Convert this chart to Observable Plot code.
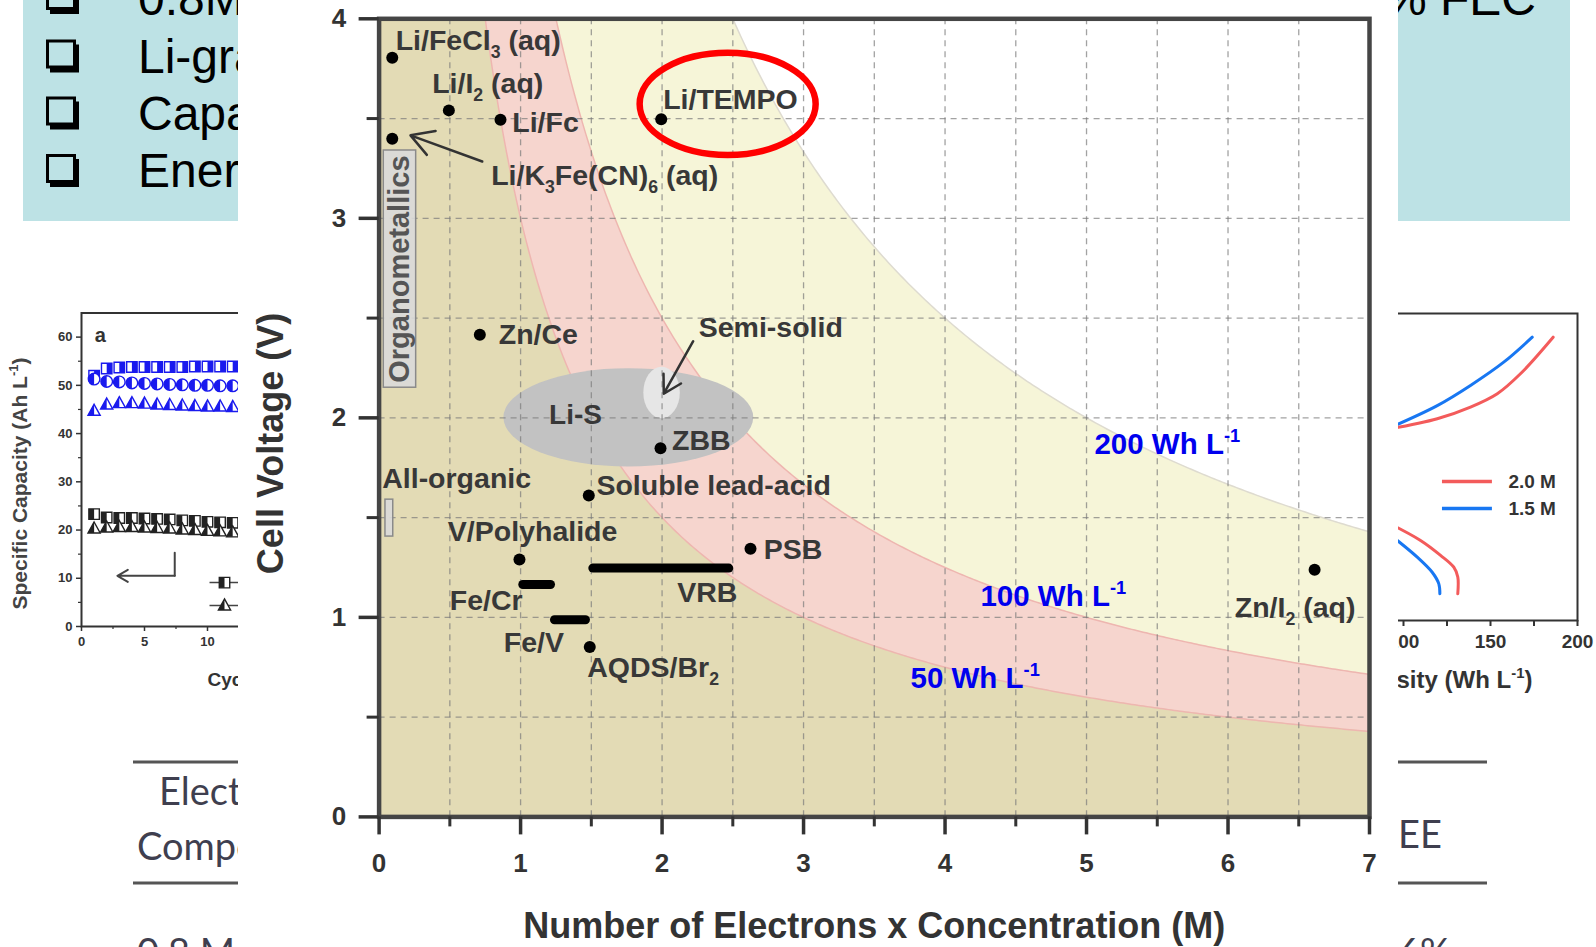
<!DOCTYPE html>
<html><head><meta charset="utf-8">
<script src="https://cdn.jsdelivr.net/npm/d3@7"></script>
<script src="https://cdn.jsdelivr.net/npm/@observablehq/plot@0.6"></script>
<style>
html,body{margin:0;padding:0;background:#fff;}
#page{position:relative;width:1596px;height:947px;overflow:hidden;background:#fff;font-family:'Liberation Sans',Arial,sans-serif;}
.layer{position:absolute;}
</style></head><body>
<div id="page">
 <svg id="bg" class="layer" style="left:0;top:0" width="1596" height="947"></svg>
 <div id="left" class="layer" style="left:0;top:290px"></div>
 <div id="right" class="layer" style="left:1300px;top:290px"></div>
 <div id="panel" class="layer" style="left:238px;top:0;width:1160px;height:947px;background:#fff"></div>
 <div id="main" class="layer" style="left:238px;top:0"></div>
</div>
<script>
// ================= MAIN CHART DATA =================
const xTicks = [0, 1, 2, 3, 4, 5, 6, 7];
const xMinorTicks = [0.5, 1.5, 2.5, 3.5, 4.5, 5.5, 6.5];
const yTicks = [0, 1, 2, 3, 4];
const yMinorTicks = [0.5, 1.5, 2.5, 3.5];
const gridX = [0.5, 1, 1.5, 2, 2.5, 3, 3.5, 4, 4.5, 5, 5.5, 6, 6.5];
const gridY = [0.5, 1, 1.5, 2, 2.5, 3, 3.5];

// iso-energy-density curves: cell voltage x (electrons x concentration) = k
const isoEnergy = [
  {label: "200 Wh L[-1]", k: 10.0},
  {label: "100 Wh L[-1]", k: 5.0},
  {label: "50 Wh L[-1]", k: 3.0}
];
const energyLabels = [
  {text: "200 Wh L[-1]", x: 5.056, v: 1.817},
  {text: "100 Wh L[-1]", x: 4.25, v: 1.055},
  {text: "50 Wh L[-1]", x: 3.756, v: 0.644}
];

// redox couples (single points)
const couples = [
  {name: "Li/FeCl3 (aq)", x: 0.093, v: 3.805},
  {name: "Li/I2 (aq)", x: 0.493, v: 3.541},
  {name: "Li/Fc", x: 0.858, v: 3.494},
  {name: "Li/K3Fe(CN)6 (aq)", x: 0.093, v: 3.399},
  {name: "Li/TEMPO", x: 1.994, v: 3.496},
  {name: "Zn/Ce", x: 0.712, v: 2.417},
  {name: "ZBB", x: 1.989, v: 1.848},
  {name: "Soluble lead-acid", x: 1.482, v: 1.611},
  {name: "V/Polyhalide", x: 0.992, v: 1.290},
  {name: "AQDS/Br2", x: 1.489, v: 0.851},
  {name: "PSB", x: 2.625, v: 1.344},
  {name: "Zn/I2 (aq)", x: 6.612, v: 1.239}
];
// concentration ranges (bars)
const ranges = [
  {name: "Fe/Cr", x1: 1.019, x2: 1.215, v: 1.165},
  {name: "Fe/V", x1: 1.243, x2: 1.462, v: 0.988},
  {name: "VRB", x1: 1.514, x2: 2.475, v: 1.247}
];
// boxed regions
const boxes = [
  {name: "Organometallics", x1: 0.033, x2: 0.262, v1: 2.151, v2: 3.34},
  {name: "All-organic", x1: 0.045, x2: 0.100, v1: 1.405, v2: 1.59}
];
// elliptical regions
const lisCloud = [{name: "Li-S", cx: 1.765, cv: 2.0, rx: 0.883, rv: 0.2466}];
const semiSolidCloud = [{name: "Semi-solid", cx: 2.0, cv: 2.125, rx: 0.129, rv: 0.129}];
const highlight = [{name: "Li/TEMPO", cx: 2.467, cv: 3.571, rx: 0.622, rv: 0.256}];
// pointer arrows
const pointers = [
  {name: "Li/K3Fe(CN)6", x1: 0.729, v1: 3.285, x2: 0.222, v2: 3.416},
  {name: "Semi-solid", x1: 2.22, v1: 2.384, x2: 2.012, v2: 2.121}
];
// label anchors (start, baseline) in data units; {} = subscript, [] = superscript
const labels = [
  {text: "Li/FeCl{3} (aq)", x: 0.117, v: 3.842},
  {text: "Li/I{2} (aq)", x: 0.375, v: 3.628},
  {text: "Li/Fc", x: 0.941, v: 3.432},
  {text: "Li/TEMPO", x: 2.008, v: 3.549},
  {text: "Li/K{3}Fe(CN){6} (aq)", x: 0.792, v: 3.165},
  {text: "Zn/Ce", x: 0.846, v: 2.371},
  {text: "Semi-solid", x: 2.259, v: 2.405},
  {text: "ZBB", x: 2.071, v: 1.837},
  {text: "Soluble lead-acid", x: 1.536, v: 1.611},
  {text: "All-organic", x: 0.022, v: 1.650},
  {text: "V/Polyhalide", x: 0.486, v: 1.382},
  {text: "Fe/Cr", x: 0.5, v: 1.035},
  {text: "Fe/V", x: 0.881, v: 0.826},
  {text: "AQDS/Br{2}", x: 1.471, v: 0.700},
  {text: "VRB", x: 2.107, v: 1.076},
  {text: "PSB", x: 2.719, v: 1.294},
  {text: "Zn/I{2} (aq)", x: 6.048, v: 1.001}
];
const cloudLabels = [{text: "Li-S", x: 1.388, v: 1.967}];

// ================= LEFT INSET DATA =================
const cycles = [1, 2, 3, 4, 5, 6, 7, 8, 9, 10, 11, 12, 13];
const capBlueSquare = [52.0, 53.5, 53.7, 53.8, 53.8, 53.8, 53.8, 53.8, 53.9, 53.9, 53.9, 53.9, 53.9];
const capBlueCircle = [51.3, 50.8, 50.7, 50.5, 50.4, 50.3, 50.2, 50.1, 50.0, 50.0, 49.9, 49.9, 49.9];
const capBlueTriangle = [44.7, 46.0, 46.3, 46.3, 46.2, 46.0, 45.9, 45.8, 45.7, 45.6, 45.6, 45.5, 45.5];
const capBlackSquare = [23.3, 22.6, 22.5, 22.5, 22.4, 22.3, 22.2, 22.0, 21.9, 21.7, 21.6, 21.5, 21.4];
const capBlackTriangle = [20.3, 20.5, 20.6, 20.6, 20.5, 20.4, 20.3, 20.1, 20.0, 19.8, 19.7, 19.5, 19.4];
const leftYTicks = [0, 10, 20, 30, 40, 50, 60];
const leftYMinor = [5, 15, 25, 35, 45, 55];
const leftXTicks = [0, 5, 10, 15, 20];
const leftXMinor = [2.5, 7.5, 12.5, 17.5];
const axisArrow = [{c: 7.4, v: 15.3}, {c: 7.4, v: 10.5}];
const axisArrowHead = [{c1: 7.4, v1: 10.5, c2: 2.85, v2: 10.5}];
const leftLegend = [{c1: 10.2, c2: 13.5, cm: 11.35, v: 9.1, shape: "square"}, {c1: 10.2, c2: 13.5, cm: 11.35, v: 4.35, shape: "triangle"}];

// ================= RIGHT INSET DATA =================
const charge15 = [{e: 92.5, v: 1.48}, {e: 119.4, v: 1.58}, {e: 138.5, v: 1.672}, {e: 157.6, v: 1.778}, {e: 174.0, v: 1.892}];
const charge20 = [{e: 92.5, v: 1.474}, {e: 119.4, v: 1.520}, {e: 138.5, v: 1.573}, {e: 153.9, v: 1.634}, {e: 167.2, v: 1.725}, {e: 186.0, v: 1.892}];
const discharge20 = [{e: 92.5, v: 1.04}, {e: 109.8, v: 0.965}, {e: 121.3, v: 0.897}, {e: 128.9, v: 0.843}, {e: 131.2, v: 0.798}, {e: 131.2, v: 0.722}];
const discharge15 = [{e: 92.5, v: 0.99}, {e: 107.9, v: 0.889}, {e: 116.5, v: 0.820}, {e: 120.3, v: 0.767}, {e: 120.9, v: 0.722}];
const rightXTicks = [100, 150, 200];
const rightXMinor = [125, 175];
const rightLegend = [{label: "2.0 M", v: 1.234, e1: 122.4, e2: 151.1, et: 160.3}, {label: "1.5 M", v: 1.111, e1: 122.4, e2: 151.1, et: 160.3}];

// ================= SLIDE BACKGROUND TEXT (visible fragments) =================
const bulletLines = ["0.8M", "Li-grap", "Capac", "Energ"];
const tableHead = ["Electr", "Compo"];

// ---------------- helpers ----------------
const FONT = "'Liberation Sans', Arial, Helvetica, sans-serif";
const intFmt = d3.format("d");
function richify(svg) {
  d3.select(svg).selectAll("text").each(function () {
    const t = this.textContent;
    if (!/[{\[]/.test(t) || this.querySelector("tspan")) return;
    const fs = parseFloat(getComputedStyle(this).fontSize) || 20;
    const parts = t.split(/(\{[^}]*\}|\[[^\]]*\])/).filter(s => s.length);
    this.textContent = "";
    let shift = 0;
    for (const p of parts) {
      const ts = d3.select(this).append("tspan");
      let target = 0, txt = p, small = false;
      if (p[0] === "{") { target = 0.28 * fs; txt = p.slice(1, -1); small = true; }
      else if (p[0] === "[") { target = -0.42 * fs; txt = p.slice(1, -1); small = true; }
      ts.attr("dy", target - shift).text(txt);
      if (small) ts.attr("font-size", (0.62 * fs).toFixed(1));
      shift = target;
    }
  });
}
function ellipseMark(data, style) {
  return (index, scales) => {
    const g = d3.create("svg:g");
    for (const d of data) {
      const cx = scales.x(d.cx), cy = scales.y(d.cv);
      g.append("ellipse").attr("cx", cx).attr("cy", cy)
        .attr("rx", Math.abs(scales.x(d.cx + d.rx) - cx))
        .attr("ry", Math.abs(scales.y(d.cv + d.rv) - cy))
        .attr("fill", style.fill || "none")
        .attr("fill-opacity", style.fillOpacity ?? 1)
        .attr("stroke", style.stroke || "none")
        .attr("stroke-width", style.strokeWidth || 0);
    }
    return g.node();
  };
}
function sym(shape, half) {
  return {draw(ctx, size) {
    const r = Math.sqrt(size / Math.PI);
    if (shape === "square") {
      const s = r * 0.9;
      if (half === "right") { ctx.moveTo(0, -s); ctx.lineTo(s, -s); ctx.lineTo(s, s); ctx.lineTo(0, s); ctx.closePath(); }
      else if (half === "left") { ctx.moveTo(-s, -s); ctx.lineTo(0, -s); ctx.lineTo(0, s); ctx.lineTo(-s, s); ctx.closePath(); }
      else { ctx.moveTo(-s, -s); ctx.lineTo(s, -s); ctx.lineTo(s, s); ctx.lineTo(-s, s); ctx.closePath(); }
    } else if (shape === "circle") {
      if (half === "left") { ctx.moveTo(0, -r); ctx.arc(0, 0, r, -Math.PI / 2, Math.PI / 2, true); ctx.closePath(); }
      else { ctx.moveTo(r, 0); ctx.arc(0, 0, r, 0, 2 * Math.PI); ctx.closePath(); }
    } else {
      const h = r * 1.9, w = r * 2.1;
      if (half === "left") { ctx.moveTo(0, -0.6 * h); ctx.lineTo(0, 0.4 * h); ctx.lineTo(-w / 2, 0.4 * h); ctx.closePath(); }
      else { ctx.moveTo(0, -0.6 * h); ctx.lineTo(w / 2, 0.4 * h); ctx.lineTo(-w / 2, 0.4 * h); ctx.closePath(); }
    }
  }};
}

// ================= SLIDE BACKGROUND =================
const BLUE_BOX = "#bde2e5";
const TXT = "#3f3f4f";
(function drawBackground() {
  const bg = d3.select("#bg");
  bg.append("rect").attr("x", 23).attr("y", 0).attr("width", 215).attr("height", 221).attr("fill", BLUE_BOX);
  bg.append("rect").attr("x", 1398).attr("y", 0).attr("width", 172).attr("height", 221).attr("fill", BLUE_BOX);
  const baselines = [15, 72.7, 130, 186.7];
  const boxTops = [-19, 39.5, 96.5, 154];
  bulletLines.forEach((t, i) => {
    bg.append("rect").attr("x", 50).attr("y", boxTops[i] + 5).attr("width", 29).attr("height", 28).attr("fill", "#000");
    bg.append("rect").attr("x", 47.5).attr("y", boxTops[i] + 1.5).attr("width", 27).attr("height", 26)
      .attr("fill", BLUE_BOX).attr("stroke", "#000").attr("stroke-width", 3);
    bg.append("text").attr("x", 138).attr("y", baselines[i]).attr("font-family", FONT)
      .attr("font-size", 48).attr("fill", "#000").text(t);
  });
  bg.append("text").attr("x", 1536).attr("y", 15).attr("text-anchor", "end").attr("font-family", FONT)
    .attr("font-size", 48).attr("fill", "#000").text("% FEC");
  for (const [x1, x2] of [[133, 238], [1398, 1487]]) {
    for (const y of [762, 883]) bg.append("line").attr("x1", x1).attr("x2", x2).attr("y1", y).attr("y2", y)
      .attr("stroke", "#555").attr("stroke-width", 3);
  }
  const tf = "Lato, 'Open Sans', sans-serif";
  bg.append("text").attr("x", 159).attr("y", 805).attr("font-family", tf).attr("font-size", 38).attr("fill", TXT).text(tableHead[0]);
  bg.append("text").attr("x", 137).attr("y", 860).attr("font-family", tf).attr("font-size", 38).attr("fill", TXT).text(tableHead[1]);
  bg.append("text").attr("x", 137).attr("y", 966).attr("font-family", tf).attr("font-size", 38).attr("fill", TXT).text("0.8 M");
  bg.append("text").attr("x", 1398).attr("y", 848).attr("font-family", tf).attr("font-size", 38).attr("fill", TXT).text("EE");
  bg.append("text").attr("x", 1398).attr("y", 966).attr("font-family", tf).attr("font-size", 38).attr("fill", TXT).text("6%");
})();

// ================= LEFT INSET =================
(function drawLeft() {
  const series = (vals) => cycles.map((c, i) => ({c, v: vals[i]}));
  const BL = "#1a1aee", BK = "#222";
  const mk = (vals, shape, half, color) => [
    Plot.dot(series(vals), {x: "c", y: "v", r: 5.8, symbol: sym(shape), fill: "#fff", stroke: color, strokeWidth: 1.4}),
    Plot.dot(series(vals), {x: "c", y: "v", r: 5.8, symbol: sym(shape, half), fill: color})
  ];
  const p = Plot.plot({
    width: 400, height: 420,
    marginLeft: 81, marginRight: 4, marginTop: 22.5, marginBottom: 84,
    x: {domain: [0, 25], label: null},
    y: {domain: [0, 65], label: null},
    style: {fontFamily: FONT, fontWeight: "bold", background: "transparent"},
    marks: [
      Plot.frame({stroke: "#333", strokeWidth: 2}),
      ...mk(capBlueSquare, "square", "right", BL),
      ...mk(capBlueCircle, "circle", "left", BL),
      ...mk(capBlueTriangle, "triangle", "left", BL),
      ...mk(capBlackSquare, "square", "left", BK),
      ...mk(capBlackTriangle, "triangle", "left", BK),
      Plot.line(axisArrow, {x: "c", y: "v", stroke: "#444", strokeWidth: 2}),
      Plot.arrow(axisArrowHead, {x1: "c1", y1: "v1", x2: "c2", y2: "v2", stroke: "#444", strokeWidth: 2, headLength: 9}),
      Plot.ruleY(leftLegend, {y: "v", x1: "c1", x2: "c2", stroke: "#444", strokeWidth: 1.5}),
      Plot.dot(leftLegend.filter(d => d.shape === "square"), {x: "cm", y: "v", r: 5.8, symbol: sym("square"), fill: "#fff", stroke: BK, strokeWidth: 1.4}),
      Plot.dot(leftLegend.filter(d => d.shape === "square"), {x: "cm", y: "v", r: 5.8, symbol: sym("square", "left"), fill: BK}),
      Plot.dot(leftLegend.filter(d => d.shape === "triangle"), {x: "cm", y: "v", r: 5.8, symbol: sym("triangle"), fill: "#fff", stroke: BK, strokeWidth: 1.4}),
      Plot.dot(leftLegend.filter(d => d.shape === "triangle"), {x: "cm", y: "v", r: 5.8, symbol: sym("triangle", "left"), fill: BK}),
      Plot.axisY({ticks: leftYTicks, tickSize: 5, tickPadding: 4, strokeWidth: 1.5, fontSize: 13, color: "#333", label: null, tickFormat: intFmt}),
      Plot.axisY({ticks: leftYMinor, tickSize: 3, strokeWidth: 1.2, tickFormat: () => "", color: "#333", label: null}),
      Plot.axisX({ticks: leftXTicks, tickSize: 5, tickPadding: 5, strokeWidth: 1.5, fontSize: 13, color: "#333", label: null, tickFormat: intFmt}),
      Plot.axisX({ticks: leftXMinor, tickSize: 3, strokeWidth: 1.2, tickFormat: () => "", color: "#333", label: null}),
      Plot.text(["a"], {x: 1.5, y: 60.4, fontSize: 20, fill: "#333"}),
      Plot.text(["Specific Capacity (Ah L[-1])"], {frameAnchor: "left", textAnchor: "middle", lineAnchor: "middle", rotate: -90, dx: -61, dy: 13.75, fontSize: 21, fill: "#444"}),
      Plot.text(["Cycle Number"], {x: 10.0, y: -11.1, textAnchor: "start", lineAnchor: "middle", fontSize: 19, fill: "#333"})
    ]
  });
  document.getElementById("left").appendChild(p);
  richify(p);
})();

// ================= RIGHT INSET =================
(function drawRight() {
  const RED = "#f35b5b", BLU = "#1877f2";
  const p = Plot.plot({
    width: 296, height: 420,
    marginLeft: 16, marginRight: 19, marginTop: 23, marginBottom: 90,
    x: {domain: [50, 200], label: null},
    y: {domain: [0.6, 2.0], label: null},
    style: {fontFamily: FONT, fontWeight: "bold", background: "transparent"},
    marks: [
      Plot.frame({stroke: "#333", strokeWidth: 2}),
      Plot.line(charge15, {x: "e", y: "v", stroke: BLU, strokeWidth: 3, curve: "catmull-rom"}),
      Plot.line(charge20, {x: "e", y: "v", stroke: RED, strokeWidth: 3, curve: "catmull-rom"}),
      Plot.line(discharge20, {x: "e", y: "v", stroke: RED, strokeWidth: 3, curve: "catmull-rom"}),
      Plot.line(discharge15, {x: "e", y: "v", stroke: BLU, strokeWidth: 3, curve: "catmull-rom"}),
      Plot.ruleY(rightLegend, {y: "v", x1: "e1", x2: "e2", stroke: (d) => d.label, strokeWidth: 3.5}),
      Plot.text(rightLegend, {x: "et", y: "v", text: "label", textAnchor: "start", fontSize: 19, fill: "#333"}),
      Plot.axisX({ticks: rightXTicks, tickSize: 6, tickPadding: 8, strokeWidth: 2, fontSize: 19, color: "#333", label: null, tickFormat: intFmt}),
      Plot.axisX({ticks: rightXMinor, tickSize: 6, strokeWidth: 2, tickFormat: () => "", color: "#333", label: null}),
      Plot.text(["Energy Density (Wh L[-1])"], {frameAnchor: "bottom", x: 174.1, textAnchor: "end", lineAnchor: "middle", dy: 60, fontSize: 24, fill: "#333"})
    ],
    color: {domain: ["2.0 M", "1.5 M"], range: [RED, BLU]}
  });
  document.getElementById("right").appendChild(p);
  richify(p);
})();

// ================= MAIN CHART =================
(function drawMain() {
  const FILL_200 = "#f6f5d8", FILL_100 = "#f6d5ce", FILL_50 = "#e3dbb5";
  const xs = d3.range(0, 7.0001, 0.02);
  const curveOf = (k) => xs.map((x) => ({x, v: x === 0 ? 4.5 : Math.min(k / x, 4.5)}));
  const [c200, c100, c50] = isoEnergy.map((d) => curveOf(d.k));
  const TC = "#383838";
  const p = Plot.plot({
    width: 1160, height: 947,
    marginLeft: 140.6, marginRight: 29, marginTop: 18.3, marginBottom: 130.6,
    x: {domain: [0, 7], label: null},
    y: {domain: [0, 4], label: null},
    style: {fontFamily: FONT, fontWeight: "bold", background: "transparent"},
    marks: [
      Plot.areaY(c200, {x: "x", y1: 0, y2: "v", fill: FILL_200, clip: true}),
      Plot.areaY(c100, {x: "x", y1: 0, y2: "v", fill: FILL_100, clip: true}),
      Plot.areaY(c50, {x: "x", y1: 0, y2: "v", fill: FILL_50, clip: true}),
      Plot.line(c200, {x: "x", y: "v", stroke: "#dedbd0", strokeWidth: 1.5, clip: true}),
      Plot.line(c100, {x: "x", y: "v", stroke: "#eeb6b0", strokeWidth: 1.5, clip: true}),
      Plot.line(c50, {x: "x", y: "v", stroke: "#eeb6b0", strokeWidth: 1.5, clip: true}),
      ellipseMark(lisCloud, {fill: "#c2c2c2"}),
      ellipseMark(semiSolidCloud, {fill: "#e6e6e6"}),
      Plot.ruleX(gridX, {stroke: "#7a7a7a", strokeWidth: 1.3, strokeDasharray: "6,5", strokeOpacity: 0.7}),
      Plot.ruleY(gridY, {stroke: "#7a7a7a", strokeWidth: 1.3, strokeDasharray: "6,5", strokeOpacity: 0.7}),
      Plot.rect(boxes, {x1: "x1", x2: "x2", y1: "v1", y2: "v2", fill: "#d9d9d9", fillOpacity: 0.9, stroke: "#8a8a8a", strokeWidth: 1.5}),
      Plot.ruleY(ranges, {y: "v", x1: "x1", x2: "x2", stroke: "#000", strokeWidth: 9, strokeLinecap: "round"}),
      Plot.dot(couples, {x: "x", y: "v", r: 6, fill: "#000"}),
      Plot.arrow(pointers, {x1: "x1", y1: "v1", x2: "x2", y2: "v2", stroke: "#333", strokeWidth: 2.5, headLength: 16}),
      Plot.text(labels, {x: "x", y: "v", text: "text", textAnchor: "start", lineAnchor: "bottom", fontSize: 28.5, fill: TC}),
      Plot.text(cloudLabels, {x: "x", y: "v", text: "text", textAnchor: "middle", lineAnchor: "bottom", fontSize: 28, fill: TC}),
      Plot.text(boxes.slice(0, 1), {x: (d) => (d.x1 + d.x2) / 2, y: (d) => (d.v1 + d.v2) / 2, text: "name", rotate: -90, fontSize: 29, fill: "#555"}),
      Plot.text(energyLabels, {x: "x", y: "v", text: "text", textAnchor: "start", lineAnchor: "bottom", fontSize: 29.5, fill: "#0000ee"}),
      ellipseMark(highlight, {stroke: "#ff0000", strokeWidth: 6.5}),
      Plot.frame({stroke: "#454545", strokeWidth: 4.5}),
      Plot.axisX({ticks: xTicks, tickSize: 18, tickPadding: 19, strokeWidth: 3.5, fontSize: 26, color: "#333", label: null, tickFormat: intFmt}),
      Plot.axisX({ticks: xMinorTicks, tickSize: 10, strokeWidth: 3, tickFormat: () => "", color: "#333", label: null}),
      Plot.axisY({ticks: yTicks, tickSize: 20, tickPadding: 13, strokeWidth: 3.5, fontSize: 26, color: "#333", label: null, tickFormat: intFmt}),
      Plot.axisY({ticks: yMinorTicks, tickSize: 12, strokeWidth: 3, tickFormat: () => "", color: "#333", label: null}),
      Plot.text(["Number of Electrons x Concentration (M)"], {frameAnchor: "bottom", lineAnchor: "middle", dy: 109.6, fontSize: 36, fill: "#333"}),
      Plot.text(["Cell Voltage (V)"], {frameAnchor: "left", textAnchor: "middle", lineAnchor: "middle", rotate: -90, dx: -107.6, dy: 25.6, fontSize: 36, fill: "#333"})
    ]
  });
  document.getElementById("main").appendChild(p);
  richify(p);
})();
</script>
</body></html>
